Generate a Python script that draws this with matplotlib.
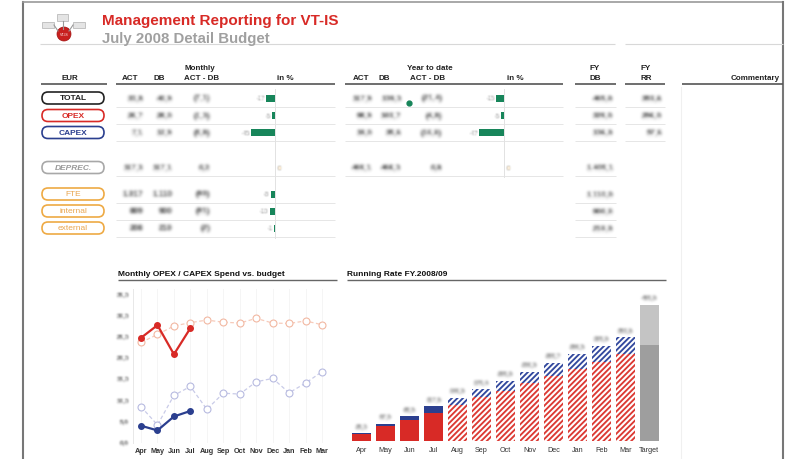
import numpy as np
import matplotlib
matplotlib.use("Agg")
import matplotlib.pyplot as plt
from matplotlib.patches import FancyBboxPatch, Circle, Rectangle

plt.rcParams['font.family'] = ['Liberation Sans', 'DejaVu Sans']
plt.rcParams['hatch.linewidth'] = 1.35

# ---- data -------------------------------------------------------------
months = ["Apr", "May", "Jun", "Jul", "Aug", "Sep", "Oct", "Nov", "Dec", "Jan", "Feb", "Mar"]

# monthly spend (line chart)
opex_act = [24.4, 27.4, 20.5, 26.7]
capex_act = [3.6, 2.5, 5.8, 7.1]
opex_budget = [23.3, 25.2, 27.2, 28.0, 28.6, 28.1, 27.9, 29.0, 27.9, 27.8, 28.4, 27.5]
capex_budget = [8.1, 3.8, 10.8, 12.9, 7.5, 11.3, 11.1, 14.0, 14.8, 11.4, 13.7, 16.4]
line_ticks = [0, 5, 10, 15, 20, 25, 30, 35]

# running rate (cumulative, bar chart)
run_opex = [23.0, 49.0, 71.0, 96.0, 123.0, 150.0, 171.0, 197.0, 220.0, 245.0, 270.0, 296.0]
run_capex = [2.3, 8.0, 12.5, 21.6, 23.0, 25.4, 34.0, 39.0, 45.7, 51.5, 55.0, 57.6]
n_actual = 4
target_opex = 328.0
target_capex = 137.0

# table
row_labels = ["TOTAL", "OPEX", "CAPEX", "DEPREC.", "FTE", "internal", "external"]
mon_act = ["33,8", "26,7", "7,1", "117,3", "1.017", "809", "208"]
mon_db = ["40,9", "28,0", "12,9", "117,1", "1.110", "900", "210"]
mon_diff = ["(7,1)", "(1,3)", "(5,8)", "0,2", "(93)", "(91)", "(2)"]
mon_pct = [-17, -5, -45, 0, -8, -10, -1]
ytd_act = ["117,9", "98,9", "19,0", "469,1"]
ytd_db = ["139,3", "103,7", "35,6", "468,3"]
ytd_diff = ["(21,4)", "(4,8)", "(16,6)", "0,8"]
ytd_pct = [-15, -5, -47, 0]
fy_db = ["465,0", "329,0", "136,0", "1.405,1", "1.110,0", "900,0", "210,0"]
fy_rr = ["353,6", "296,0", "57,6"]

# ---- style --------------------------------------------------------------
RED = '#d82a26'
BLUE = '#2b3f8f'
GREEN = '#17855a'
ORANGE = '#eeaa44'
row_edge = ['#222222', RED, BLUE, '#a8a8a8', ORANGE, ORANGE, ORANGE]
row_text = ['#222222', RED, BLUE, '#999999', '#e9a650', '#e9a650', '#e9a650']
row_y = [99, 116.5, 133.5, 168.5, 195, 212, 229]


def blur(sigma=1.0):
    pad = int(np.ceil(sigma * 3))
    k = np.exp(-0.5 * (np.arange(-pad, pad + 1) / sigma) ** 2)
    k /= k.sum()

    def f(im, dpi):
        a = np.pad(im, ((pad, pad), (pad, pad), (0, 0)))
        b = np.zeros_like(a)
        for i, w in enumerate(k):
            b += w * np.roll(a, i - pad, axis=0)
        c = np.zeros_like(b)
        for i, w in enumerate(k):
            c += w * np.roll(b, i - pad, axis=1)
        return c, -pad, -pad
    return f


W, H = 792, 460
fig = plt.figure(figsize=(W / 100, H / 100), dpi=100)
bg = fig.add_axes([0, 0, 1, 1])
bg.set_xlim(0, W)
bg.set_ylim(H, 0)
bg.axis('off')


def fax(x0, y0, x1, y1):
    # axes from pixel box (top-down y)
    return fig.add_axes([x0 / W, 1 - y1 / H, (x1 - x0) / W, (y1 - y0) / H])


def hline(x0, x1, y, c='#555555', lw=1.2):
    bg.plot([x0, x1], [y, y], color=c, lw=lw, solid_capstyle='butt')


def blurred(x, y, s, ha='right', size=5.8, color='#222222', sigma=1.5, **kw):
    t = bg.text(x, y, s, ha=ha, va='center', fontsize=size, color=color,
                fontweight='bold', **kw)
    t.set_agg_filter(blur(sigma))
    return t


# frame
bg.plot([23, 23], [H, 3], color='#777777', lw=1.5)
bg.plot([23, 783], [3, 3], color='#999999', lw=1.2)
bg.plot([783, 783], [3, H], color='#777777', lw=1.5)
hline(40, 615, 45, '#d8d8d8', 0.8)
hline(625, 783, 45, '#d8d8d8', 0.8)
bg.plot([681, 681], [88, H], color='#f0f0f0', lw=0.8)

# logo
for (x, y, w, h) in [(57, 15, 11, 7), (42, 23, 12, 6), (73, 23, 12, 6)]:
    bg.add_patch(Rectangle((x, y), w, h, facecolor='#e4e4e4', edgecolor='#bbbbbb', lw=0.6))
bg.plot([62.5, 62.5], [22, 30], color='#999999', lw=0.8)
bg.plot([54, 58], [26, 32], color='#999999', lw=0.8)
bg.plot([73, 69], [26, 32], color='#999999', lw=0.8)
bg.add_patch(Circle((64, 35), 7, facecolor='#c8201e', edgecolor='#a01010', lw=0.5))
bg.text(64, 35, "VT-IS", ha='center', va='center', fontsize=2.5, color='white')

# titles
bg.text(102, 21, "Management Reporting for VT-IS", ha='left', va='center',
        fontsize=11, fontweight='bold', color=RED)
bg.text(102, 39, "July 2008 Detail Budget", ha='left', va='center',
        fontsize=10.8, fontweight='bold', color='#a0a0a0')

# column headers
hdr = dict(ha='center', va='center', fontsize=5.8, fontweight='bold', color='#222222')
bg.text(70, 79, "EUR", **hdr)
hline(41, 107, 84.5)
bg.text(200, 68, "Monthly", **hdr)
for x, s in [(130, "ACT"), (159, "DB"), (202, "ACT - DB"), (285, "in %")]:
    bg.text(x, 79, s, **hdr)
hline(116, 335, 84.5)
bg.text(430, 68, "Year to date", **hdr)
for x, s in [(361, "ACT"), (384, "DB"), (428, "ACT - DB"), (515, "in %")]:
    bg.text(x, 79, s, **hdr)
hline(345, 563, 84.5)
bg.text(595, 68, "FY", **hdr)
bg.text(595, 79, "DB", **hdr)
hline(575, 616, 84.5)
bg.text(646, 68, "FY", **hdr)
bg.text(646, 79, "RR", **hdr)
hline(625, 665, 84.5)
bg.text(755, 79, "Commentary", **hdr)
hline(682, 783, 84.5)

# row labels (pills) and separators
for i, lab in enumerate(row_labels):
    y = row_y[i]
    bg.add_patch(FancyBboxPatch((42, y - 6), 62, 12,
                                boxstyle="round,pad=0,rounding_size=6",
                                facecolor='white', edgecolor=row_edge[i], lw=1.2))
    style = 'italic' if lab == "DEPREC." else 'normal'
    weight = 'bold' if i < 4 else 'normal'
    bg.text(73, y, lab, ha='center', va='center', fontsize=6, color=row_text[i],
            fontstyle=style, fontweight=weight)
    hline(116, 335, y + 8.5, '#e6e6e6', 0.7)
    hline(575, 616, y + 8.5, '#e6e6e6', 0.7)
    if i < 4:
        hline(345, 563, y + 8.5, '#e6e6e6', 0.7)
    if i < 3:
        hline(625, 665, y + 8.5, '#e6e6e6', 0.7)

# blurred figures
for i in range(len(row_labels)):
    y = row_y[i]
    blurred(143, y, mon_act[i])
    blurred(172, y, mon_db[i])
    blurred(210, y, mon_diff[i])
    blurred(613, y, fy_db[i])
for i in range(len(ytd_act)):
    y = row_y[i]
    blurred(372, y, ytd_act[i])
    blurred(401, y, ytd_db[i])
    blurred(442, y, ytd_diff[i])
for i in range(len(fy_rr)):
    blurred(662, row_y[i], fy_rr[i])
bg.plot([409], [104], 'o', color=GREEN, ms=3.5)


# in % bars
def pct_column(x0, x1, zero_x, pcts, y_end):
    ax = fax(x0, 88, x1, 240)
    scale = 0.53
    ax.set_xlim(-(zero_x - x0) / scale, (x1 - zero_x) / scale)
    ax.set_ylim(240, 88)
    ax.axis('off')
    ys = row_y[:len(pcts)]
    ax.barh(ys, pcts, height=7, color=GREEN)
    ax.plot([0, 0], [90, y_end], color='#e2e2e2', lw=0.7)
    for y, p, lab in zip(ys, pcts, row_labels):
        if lab == "DEPREC.":
            t = ax.text(5, y, "0", ha='left', va='center', fontsize=4.2, color=ORANGE)
        else:
            t = ax.text(min(p, 0) - 3, y, str(p), ha='right', va='center',
                        fontsize=4, color='#999999')
        t.set_agg_filter(blur(0.8))


pct_column(245, 335, 275, mon_pct, 240)
pct_column(474, 563, 504, ytd_pct, 178)

# chart titles
ttl = dict(ha='left', va='center', fontsize=6, fontweight='bold', color='#111111')
bg.text(118, 275, "Monthly OPEX / CAPEX Spend vs. budget", **ttl)
hline(118, 337, 280.5, '#666666', 1.0)
bg.text(347, 275, "Running Rate FY.2008/09", **ttl)
hline(347, 666, 280.5, '#666666', 1.0)

# ---- line chart ----------------------------------------------------------
ax1 = fax(132.8, 289.8, 335.2, 444.1)
x_all = np.arange(len(months))
x_act = np.arange(len(opex_act))
ax1.set_xlim(-0.5, 11.8)
ax1.set_ylim(-0.5, 36)
for x in x_all:
    ax1.axvline(x, color='#f5f5f5', lw=0.7, zorder=0)
ax1.plot(x_all, opex_budget, ls=(0, (3, 2)), color='#f7cbbb', lw=0.9, marker='o',
         ms=5, mfc='white', mec='#f2b8a2', mew=0.8)
ax1.plot(x_all, capex_budget, ls=(0, (3, 2)), color='#c9cbe8', lw=0.9, marker='o',
         ms=5, mfc='white', mec='#b7bae0', mew=0.8)
ax1.plot(x_act, opex_act, color=RED, lw=1.6, marker='o', ms=4)
ax1.plot(x_act, capex_act, color=BLUE, lw=1.6, marker='o', ms=4)
ax1.set_xticks(x_all)
ax1.set_xticklabels(months, fontsize=5.2, color='#333333', fontweight='bold')
ax1.set_yticks(line_ticks)
ax1.set_yticklabels([f"{v:.1f}".replace('.', ',') for v in line_ticks],
                    fontsize=4.5, color='#555555', fontweight='bold')
for t in ax1.get_yticklabels():
    t.set_agg_filter(blur(1.0))
ax1.tick_params(length=0, pad=3)
for s in ['top', 'right', 'bottom']:
    ax1.spines[s].set_visible(False)
ax1.spines['left'].set_color('#e8e8e8')
ax1.spines['left'].set_linewidth(0.7)

# ---- running rate bars ---------------------------------------------------
ax2 = fax(347.3, 295.5, 663.7, 441.7)
labels2 = months + ["Target"]
xb = np.arange(len(labels2))
ax2.set_xlim(-0.6, 12.6)
ax2.set_ylim(0, 500)
w = 0.78
for i in range(len(months)):
    if i < n_actual:
        ax2.bar(xb[i], run_opex[i], w, color=RED)
        ax2.bar(xb[i], run_capex[i], w, bottom=run_opex[i], color=BLUE)
    else:
        ax2.bar(xb[i], run_opex[i], w, facecolor='white', edgecolor='#dc3a34',
                hatch='//////', lw=0)
        ax2.bar(xb[i], run_capex[i], w, bottom=run_opex[i], facecolor='white',
                edgecolor='#33499e', hatch='//////', lw=0)
    tot = run_opex[i] + run_capex[i]
    t = ax2.annotate(f"{tot:.1f}".replace('.', ','), (xb[i], tot), xytext=(0, 4),
                     textcoords='offset points', ha='center', va='bottom',
                     fontsize=4.3, color='#666666', fontweight='bold')
    t.set_agg_filter(blur(1.0))
ax2.bar(xb[-1], target_opex, w, color='#9e9e9e')
ax2.bar(xb[-1], target_capex, w, bottom=target_opex, color='#c4c4c4')
tt = target_opex + target_capex
t = ax2.annotate(f"{tt:.1f}".replace('.', ','), (xb[-1], tt), xytext=(0, 4),
                 textcoords='offset points', ha='center', va='bottom',
                 fontsize=4.3, color='#666666', fontweight='bold')
t.set_agg_filter(blur(1.0))
ax2.set_xticks(xb)
ax2.set_xticklabels(labels2, fontsize=5.2, color='#333333')
ax2.set_yticks([])
ax2.tick_params(length=0, pad=4)
for s in ax2.spines.values():
    s.set_visible(False)

fig.savefig("out.png", dpi=100)
